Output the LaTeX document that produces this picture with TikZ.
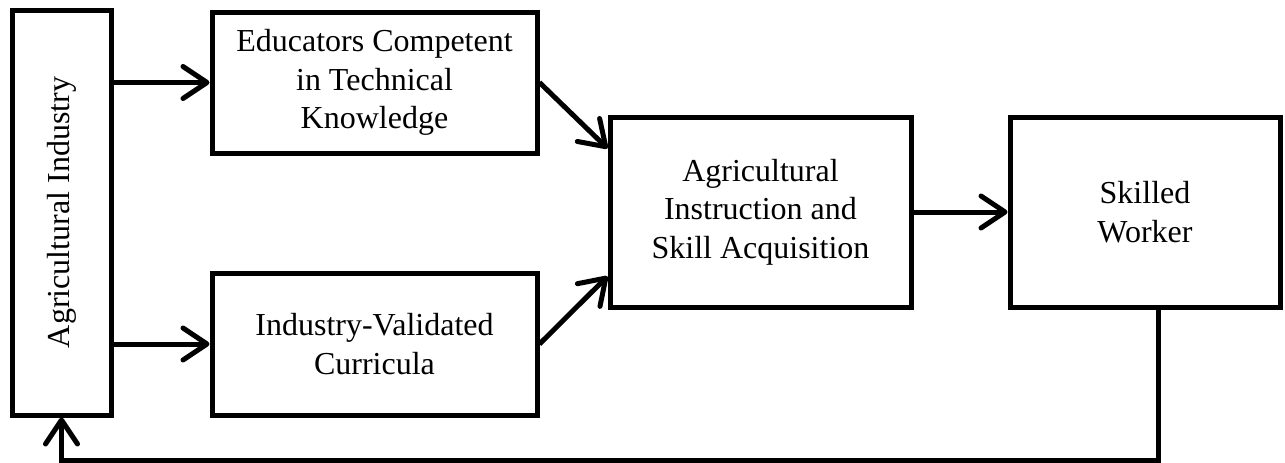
\documentclass[tikz,border=0pt]{standalone}
\usepackage{fontspec}
\setmainfont{Liberation Serif}
\usetikzlibrary{arrows.meta,calc}
\begin{document}
\begin{tikzpicture}[x=1pt,y=-1pt,
  box/.style={draw,line width=5pt,inner sep=0pt,align=center,
    font=\fontsize{32}{38.5}\selectfont},
  arr/.style={line width=5pt,-{Straight Barb[length=24pt,width=32pt,round]}}]
\useasboundingbox (0,0) rectangle (1285,463);
\node[box,minimum width=99pt,minimum height=405pt] (lb) at (61.5,212.5) {};
\node[rotate=90,font=\fontsize{32}{38.5}\selectfont] (lbt) at (lb.center) {Agricultural Industry};
\node[box,minimum width=325pt,minimum height=141pt] (b2) at (374.5,82.5) {Educators Competent\\in Technical\\Knowledge};
\node[box,minimum width=325pt,minimum height=142pt] (b3) at (374.5,344) {Industry-Validated\\Curricula};
\node[box,minimum width=301pt,minimum height=190pt] (b4) at (760.5,212) {Agricultural\\Instruction and\\Skill Acquisition};
\node[box,minimum width=270pt,minimum height=190pt] (b5) at (1145,212) {Skilled\\Worker};
\coordinate (fb) at (1158,460);
\draw[arr] (b2.west -| lb.east) -- (b2.west);
\draw[arr] (b3.west -| lb.east) -- (b3.west);
\draw[arr] (b2.east) -- ($(b4.north west)!0.174!(b4.south west)$);
\draw[arr] (b3.east) -- ($(b4.north west)!0.83!(b4.south west)$);
\draw[arr] (b4.east) -- (b5.west);
\draw[arr,line join=miter] (b5.south -| fb) -- (fb) -| (lb.south);
\end{tikzpicture}
\end{document}
